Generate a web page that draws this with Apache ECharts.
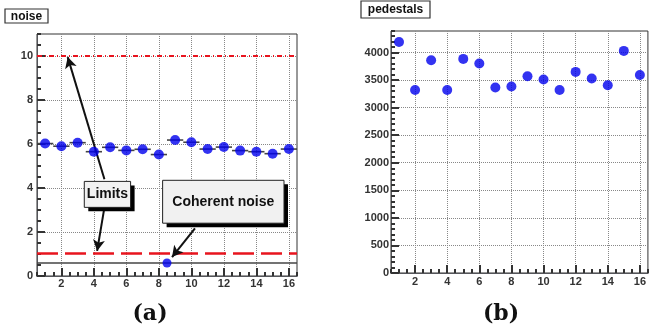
<!DOCTYPE html>
<html><head><meta charset="utf-8">
<script src="https://cdn.jsdelivr.net/npm/echarts@6/dist/echarts.min.js"></script>
<style>html,body{margin:0;padding:0;background:#fff}#c{width:649px;height:334px}</style>
</head><body><div id="c"></div>
<script>
// ---- data ----
const channels = [1,2,3,4,5,6,7,8,9,10,11,12,13,14,15,16];
const noiseValues = [6.02,5.90,6.06,5.65,5.85,5.71,5.76,5.52,6.18,6.08,5.77,5.86,5.70,5.65,5.56,5.77];
const noiseXErr = [0.5,0.5,0.5,0.5,0.5,0.5,0.5,0.5,0.5,0.5,0.5,0.5,0.5,0.5,0.5,0.5];
const coherentX = [8.5];
const coherentY = [0.59];
const coherentXErr = [8];
const limitValues = [10, 1.05];
const pedestalValues = [4192,3321,3860,3321,3884,3800,3365,3383,3570,3510,3321,3648,3528,3407,4029,3593];
const xTickLabels = [2,4,6,8,10,12,14,16];
const noiseYTickLabels = [0,2,4,6,8,10];
const pedYTickLabels = [0,500,1000,1500,2000,2500,3000,3500,4000];
const noiseTitle = 'noise';
const pedTitle = 'pedestals';
const annLimits = 'Limits';
const annCoherent = 'Coherent noise';
const panelLabels = ['(a)','(b)'];

// ---- chart ----
const AX = '#333';
function lbl(custom, margin, plain){
  const o = {customValues:custom, margin:margin, fontFamily:'Liberation Sans, Arial, sans-serif',
          fontWeight:'bold', fontSize:11, color:'#333'};
  if (plain) o.formatter = function(v){return String(v);};
  return o;
}
function minorX(g){return {type:'value',gridIndex:g,min:0.5,max:16.5,interval:0.5,position:'bottom',
  axisLine:{show:true,onZero:false},
  axisTick:{show:true,inside:true,length:4,lineStyle:{color:'#333',width:2}},
  axisLabel:lbl(xTickLabels, g===0?2:3, false),
  splitLine:{show:false}};}
function majorX(g){return {type:'value',gridIndex:g,min:0.5,max:16.5,interval:0.5,position:'bottom',
  axisLine:{show:true,onZero:false},
  axisTick:{show:true,inside:true,length:8,customValues:xTickLabels,lineStyle:{color:'#333',width:2}},
  axisLabel:{show:false},
  splitLine:{show:true,lineStyle:{type:'dotted',color:'#888',width:1}}};}
function minorY(g,max,step,labels,margin,plain){return {type:'value',gridIndex:g,min:0,max:max,interval:step,position:'left',
  axisLine:{show:true},
  axisTick:{show:true,inside:true,length:4,lineStyle:{color:'#333',width:2}},
  axisLabel:lbl(labels, margin, plain),
  splitLine:{show:false}};}
function majorY(g,max,step,labels){return {type:'value',gridIndex:g,min:0,max:max,interval:step,position:'left',
  axisLine:{show:true},
  axisTick:{show:true,inside:true,length:8,customValues:labels,lineStyle:{color:'#333',width:2}},
  axisLabel:{show:false},
  splitLine:{show:true,lineStyle:{type:'dotted',color:'#888',width:1}}};}

function errBar(params, api){
  const x=api.value(0), y=api.value(1), e=api.value(2);
  const p1=api.coord([x-e,y]), p2=api.coord([x+e,y]);
  return {type:'line',shape:{x1:p1[0],y1:p1[1],x2:p2[0],y2:p2[1]},style:{stroke:'#444',lineWidth:1.6}};
}

const noiseData = channels.map((c,i)=>[c,noiseValues[i]]);
const noiseErrData = channels.map((c,i)=>[c,noiseValues[i],noiseXErr[i]]);
const cohData = coherentX.map((x,i)=>[x,coherentY[i]]);
const cohErrData = coherentX.map((x,i)=>[x,coherentY[i],coherentXErr[i]]);
const pedData = channels.map((c,i)=>[c,pedestalValues[i]]);

// arrow endpoints in data coordinates of panel (a)
const arrows = [
  [[4.65,4.40],[2.39,9.95]],
  [[4.65,3.12],[4.20,1.14]],
  [[10.22,2.17],[8.81,0.86]]
];

const option = {
  animation:false,
  grid:[
    {left:37,top:34,width:260,height:242,show:true,borderColor:AX},
    {left:391,top:31,width:261,height:242,show:true,borderColor:AX}
  ],
  xAxis:[minorX(0),majorX(0),minorX(1),majorX(1)],
  yAxis:[minorY(0,11,0.5,noiseYTickLabels,4,false),majorY(0,11,0.5,noiseYTickLabels),
         minorY(1,4390,100,pedYTickLabels,2,true),majorY(1,4390,100,pedYTickLabels)],
  series:[
    {type:'custom',xAxisIndex:0,yAxisIndex:0,renderItem:errBar,data:noiseErrData,z:3,clip:true},
    {type:'custom',xAxisIndex:0,yAxisIndex:0,renderItem:errBar,data:cohErrData,z:3,clip:true},
    {type:'scatter',xAxisIndex:0,yAxisIndex:0,data:cohData,symbolSize:9,itemStyle:{color:'#0000ee'},z:4},
    {type:'scatter',xAxisIndex:0,yAxisIndex:0,data:noiseData,symbolSize:10,itemStyle:{color:'#0000ee'},z:6,
      markLine:{silent:true,symbol:['none','none'],label:{show:false},animation:false,
        data:[
          {yAxis:limitValues[0],lineStyle:{color:'#e8141e',width:2,type:[5,3,1,3]}},
          {yAxis:limitValues[1],lineStyle:{color:'#e8141e',width:2.5,type:[21,7]}}
        ]}},
    {type:'scatter',xAxisIndex:0,yAxisIndex:0,data:[],z:8,
      markLine:{silent:true,symbol:['none','arrow'],symbolSize:[9,11],label:{show:false},animation:false,
        lineStyle:{color:'#111',width:2,type:'solid'},
        data:arrows.map(a=>[{coord:a[0]},{coord:a[1]}])}},
    {type:'scatter',xAxisIndex:2,yAxisIndex:2,data:pedData,symbolSize:10,itemStyle:{color:'#0000ee'},z:6}
  ]
};
const chart = echarts.init(document.getElementById('c'),null,{renderer:'canvas'});
chart.setOption(option);

function pix(v){return chart.convertToPixel({gridIndex:0},v);}
function pave(x0y0, x1y1, text){
  const a=pix(x0y0), b=pix(x1y1);
  const x=Math.min(a[0],b[0]), y=Math.min(a[1],b[1]), w=Math.abs(b[0]-a[0]), h=Math.abs(b[1]-a[1]);
  return {type:'group',z:100,children:[
    {type:'rect',shape:{x:x+4,y:y+4,width:w,height:h},style:{fill:'#000'},z:100},
    {type:'rect',shape:{x:x,y:y,width:w,height:h},style:{fill:'#f1f1f1',stroke:'#222',lineWidth:1},z:101},
    {type:'text',x:x+w/2,y:y+h/2,z:102,style:{text:text,fill:'#111',font:'bold 14px "Liberation Sans", Arial, sans-serif',align:'center',verticalAlign:'middle'}}
  ]};
}
function titleBox(x,y,w,h,text){
  return {type:'group',children:[
    {type:'rect',shape:{x:x,y:y,width:w,height:h},style:{fill:'#fff',stroke:'#333',lineWidth:1.2}},
    {type:'text',x:x+w/2,y:y+h/2+0.5,style:{text:text,fill:'#111',font:'bold 12px "Liberation Sans", Arial, sans-serif',align:'center',verticalAlign:'middle'}}
  ]};
}
chart.setOption({graphic:[
  pave([3.41,4.30],[6.26,3.12],annLimits),
  pave([8.23,4.35],[15.70,2.40],annCoherent),
  titleBox(5,9,43,14,noiseTitle),
  titleBox(361,1,69,17,pedTitle),
  {type:'text',x:150,y:314,style:{text:panelLabels[0],fill:'#111',font:'bold 22px "DejaVu Serif", serif',align:'center',verticalAlign:'middle'}},
  {type:'text',x:501,y:314,style:{text:panelLabels[1],fill:'#111',font:'bold 22px "DejaVu Serif", serif',align:'center',verticalAlign:'middle'}}
]});
</script></body></html>
